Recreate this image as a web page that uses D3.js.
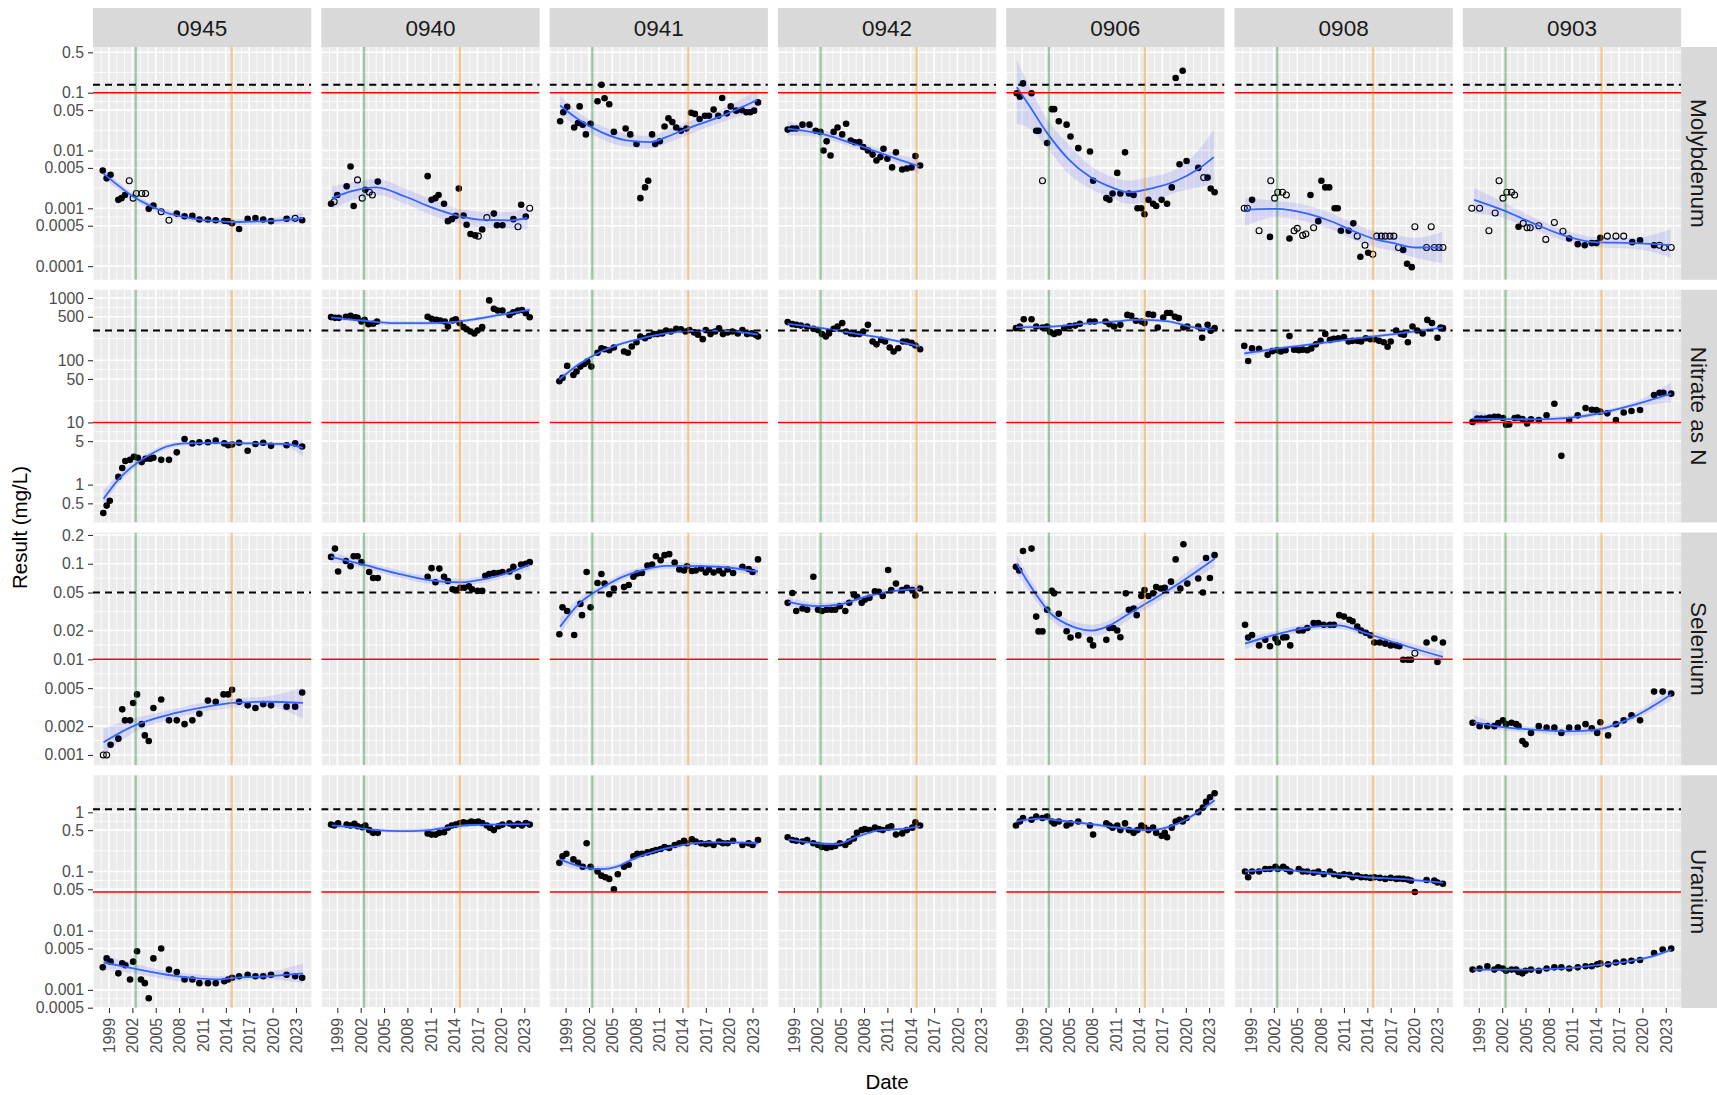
<!DOCTYPE html>
<html><head><meta charset="utf-8">
<script src="https://cdn.jsdelivr.net/npm/d3@7"></script>
<style>body{margin:0;background:#fff}svg{display:block}text{font-family:"Liberation Sans",Arial,sans-serif}</style>
</head><body><svg id="chart" width="1717" height="1095"></svg>
<script>
// ---------- categories & ticks ----------
const stations = ["0945","0940","0941","0942","0906","0908","0903"];
const analytes = ["Molybdenum","Nitrate as N","Selenium","Uranium"];
const xTicks = [1999,2002,2005,2008,2011,2014,2017,2020,2023];
const xDomain = [1996.946, 2024.97];
const moTicks = [0.0001,0.0005,0.001,0.005,0.01,0.05,0.1,0.5];
const moLabels = ["0.0001","0.0005","0.001","0.005","0.01","0.05","0.1","0.5"];
const noTicks = [0.5,1,5,10,50,100,500,1000];
const noLabels = ["0.5","1","5","10","50","100","500","1000"];
const seTicks = [0.001,0.002,0.005,0.01,0.02,0.05,0.1,0.2];
const seLabels = ["0.001","0.002","0.005","0.01","0.02","0.05","0.1","0.2"];
const uTicks = [0.0005,0.001,0.005,0.01,0.05,0.1,0.5,1];
const uLabels = ["0.0005","0.001","0.005","0.01","0.05","0.1","0.5","1"];
const yLimits = [[5.81e-5,0.618],[0.246,1358],[7.80e-4,0.2123],[4.94e-4,4.227]];
const redLimits = [0.1, 10, 0.01, 0.045];
const dashLimits = [0.137, 300, 0.05, 1.13];
const greenYear = 2002.43, orangeYear = 2014.75;

// ---------- points: [year, value, open?] ----------
const mo0945 = [[1998.2,0.0045],[1998.7,0.0033],[1999.2,0.0038],[2000.2,0.0014],[2000.6,0.0015],[2001.05,0.0017],[2001.6,0.003,1],[2002.1,0.0015,1],[2002.5,0.0018,1],[2003.2,0.0018,1],[2003.7,0.0018,1],[2004.1,0.00098],[2004.7,0.00112],[2005.7,0.00087,1],[2006.7,0.00062,1],[2007.7,0.00081],[2008.7,0.00073],[2009.7,0.00074],[2010.6,0.00064],[2011.7,0.00064],[2012.7,0.00062],[2013.8,0.00061],[2014.3,0.0006],[2014.8,0.00055],[2015.7,0.00044],[2016.8,0.00066],[2017.8,0.00068],[2018.8,0.00064],[2019.8,0.0006],[2021.8,0.00066],[2022.9,0.00067,1],[2023.8,0.00062]];
const mo0940 = [[1998.2,0.0012],[1998.6,0.0013,1],[1999.0,0.0017],[2000.2,0.0024],[2000.7,0.0053],[2001.1,0.0011],[2001.6,0.0031,1],[2002.2,0.0015,1],[2002.6,0.0021],[2003.1,0.0019,1],[2003.5,0.0017,1],[2004.2,0.0029],[2010.6,0.0036],[2011.1,0.0014],[2011.6,0.0015],[2012.0,0.0017],[2012.7,0.0012],[2013.2,0.0006],[2013.7,0.00065],[2014.2,0.00074],[2014.6,0.0022],[2015.2,0.00075],[2015.6,0.00052],[2016.1,0.00036],[2016.7,0.00034],[2017.1,0.00033,1],[2017.6,0.00043],[2018.2,0.00069,1],[2019.1,0.00081],[2019.5,0.00051],[2020.2,0.00051],[2021.6,0.00065],[2022.2,0.00048,1],[2022.6,0.00115],[2023.2,0.00072],[2023.7,0.001,1]];
const mo0941 = [[1998.3,0.032],[1998.7,0.046],[1999.2,0.057],[2000.1,0.025],[2000.6,0.03],[2000.8,0.058],[2001.2,0.028],[2001.6,0.019],[2002.2,0.029],[2003.1,0.071],[2003.6,0.137],[2004.0,0.08],[2004.6,0.063],[2005.2,0.021],[2006.7,0.024],[2007.3,0.019],[2008.1,0.013],[2008.6,0.0015],[2009.2,0.0023],[2009.6,0.003],[2010.1,0.019],[2010.5,0.013],[2011.1,0.0145],[2011.7,0.026],[2012.2,0.036],[2012.7,0.031],[2013.2,0.025],[2013.8,0.022],[2014.5,0.024],[2015.1,0.045],[2015.6,0.043],[2016.2,0.035],[2016.9,0.04],[2017.4,0.04],[2018.0,0.051],[2018.6,0.04],[2019.1,0.081],[2019.7,0.044],[2020.2,0.058],[2020.9,0.049],[2021.6,0.05],[2022.2,0.046],[2022.7,0.046],[2023.2,0.049],[2023.7,0.068]];
const mo0942 = [[1998.2,0.023],[1998.8,0.024],[1999.3,0.024],[2000.1,0.028],[2001.0,0.028],[2001.8,0.022],[2002.4,0.021],[2002.8,0.01],[2003.2,0.0144],[2003.7,0.0082],[2004.1,0.021],[2004.6,0.025],[2005.2,0.019],[2005.7,0.029],[2006.3,0.0149],[2006.8,0.0139],[2007.4,0.014],[2007.9,0.0115],[2008.5,0.01],[2009.1,0.0085],[2009.6,0.0067],[2010.1,0.0077],[2010.5,0.0107],[2011.0,0.0072],[2011.6,0.0051],[2012.1,0.0093],[2012.9,0.0047],[2013.5,0.0049],[2014.1,0.0051],[2014.6,0.008],[2015.2,0.0055]];
const mo0906 = [[1998.3,0.098],[1998.7,0.085],[1999.1,0.145],[2000.2,0.098],[2000.8,0.022],[2001.1,0.022],[2001.6,0.003,1],[2002.2,0.0135],[2002.8,0.052],[2003.1,0.052],[2003.7,0.032],[2004.7,0.028],[2005.2,0.0175],[2006.2,0.011],[2007.7,0.0096],[2008.1,0.003],[2009.8,0.0015],[2010.2,0.0014],[2010.6,0.0018],[2011.2,0.0041],[2011.6,0.0018],[2012.2,0.0093],[2012.7,0.0018],[2013.3,0.0017],[2013.8,0.001],[2014.3,0.001],[2014.7,0.00079],[2015.2,0.0014],[2015.8,0.0012],[2016.2,0.0011],[2016.9,0.0014],[2017.6,0.0012],[2018.2,0.0023],[2018.7,0.18],[2019.2,0.0058],[2019.6,0.24],[2020.1,0.0066],[2021.6,0.005],[2022.3,0.0034,1],[2022.8,0.0034],[2023.2,0.0022],[2023.7,0.0019]];
const mo0908 = [[1998.2,0.001,1],[1998.6,0.001,1],[1999.2,0.0014],[2000.1,0.00041,1],[2001.5,0.00032],[2001.6,0.003,1],[2002.1,0.0015,1],[2002.5,0.0019,1],[2003.1,0.0019,1],[2003.6,0.0017,1],[2004.0,0.0003],[2004.6,0.00041,1],[2005.0,0.00045,1],[2005.7,0.00034,1],[2006.1,0.00036,1],[2006.7,0.0017],[2007.1,0.00046,1],[2007.7,0.0006],[2008.1,0.003],[2008.6,0.0023],[2009.1,0.0023],[2009.8,0.001],[2010.2,0.001],[2010.6,0.00041],[2011.6,0.00041],[2012.2,0.00055],[2012.7,0.00033,1],[2013.1,0.000145],[2013.7,0.00023,1],[2014.1,0.00017],[2014.7,0.00016,1],[2015.2,0.00033,1],[2015.8,0.00033,1],[2016.3,0.00033,1],[2016.9,0.00033,1],[2017.4,0.00033,1],[2018.0,0.00021,1],[2018.6,0.00019],[2019.1,0.00011],[2019.7,0.000096],[2020.1,0.00048,1],[2021.6,0.00021,1],[2022.2,0.00048,1],[2022.6,0.00021,1],[2023.2,0.00021,1],[2023.7,0.00021,1]];
const mo0903 = [[1998.1,0.001,1],[1999.1,0.001,1],[2000.3,0.00041,1],[2001.1,0.00083,1],[2001.6,0.003,1],[2002.1,0.0015,1],[2002.6,0.0019,1],[2003.2,0.0019,1],[2003.6,0.0017,1],[2004.1,0.00048],[2004.7,0.00055,1],[2005.2,0.00046,1],[2005.6,0.00046,1],[2006.7,0.0005,1],[2007.6,0.00029,1],[2008.7,0.00057,1],[2009.8,0.0004,1],[2010.6,0.0003],[2011.7,0.00024],[2012.6,0.00023],[2013.5,0.00025],[2014.1,0.00025],[2014.6,0.00031],[2015.5,0.00033,1],[2016.6,0.00033,1],[2017.6,0.00033,1],[2018.7,0.00026],[2019.7,0.00028],[2021.5,0.00023],[2022.2,0.00023,1],[2022.8,0.00021,1],[2023.7,0.00021,1]];

const no0945 = [[1998.27,0.35],[1998.7,0.46],[1999.1,0.55],[2000.2,1.33],[2000.7,1.85],[2001.1,2.4],[2001.7,2.5],[2002.2,2.8],[2002.7,2.7],[2003.2,2.3],[2003.7,2.6],[2004.3,2.6],[2004.7,2.7],[2005.7,2.5],[2006.7,2.5],[2007.7,3.3],[2008.7,5.4],[2009.7,4.6],[2010.6,4.8],[2011.7,4.8],[2012.7,5.1],[2013.8,4.6],[2014.3,4.3],[2014.8,4.4],[2015.7,4.7],[2016.8,3.5],[2017.8,4.5],[2018.8,4.7],[2019.8,4.2],[2021.8,4.3],[2022.9,4.6],[2023.8,4.1]];
const no0940 = [[1998.2,493],[1998.7,480],[1999.2,480],[2000.1,500],[2000.7,520],[2001.3,490],[2001.6,480],[2002.1,420],[2002.5,445],[2003.0,380],[2003.6,385],[2004.1,420],[2010.6,500],[2011.1,465],[2011.7,445],[2012.2,435],[2012.8,420],[2013.2,347],[2013.8,435],[2014.2,455],[2014.7,395],[2015.2,340],[2015.6,315],[2016.1,290],[2016.6,270],[2017.0,300],[2017.6,340],[2018.5,915],[2019.1,670],[2019.6,630],[2020.2,630],[2021.1,535],[2021.6,590],[2022.2,630],[2022.7,640],[2023.2,570],[2023.7,490]];
const no0941 = [[1998.2,46],[1998.6,52],[1999.2,81],[2000.0,58],[2000.4,66],[2000.9,79],[2001.4,87],[2001.8,95],[2002.3,79],[2003.1,132],[2003.6,156],[2004.0,150],[2004.6,145],[2005.2,160],[2006.5,138],[2007.0,132],[2007.5,166],[2008.1,195],[2008.6,240],[2009.2,225],[2009.7,245],[2010.3,263],[2010.8,263],[2011.4,270],[2011.9,300],[2012.5,290],[2013.2,320],[2013.8,315],[2014.4,290],[2014.9,305],[2015.5,280],[2016.0,257],[2016.6,218],[2017.0,305],[2017.6,263],[2018.2,290],[2018.7,325],[2019.2,263],[2019.8,280],[2020.4,290],[2021.1,270],[2021.7,305],[2022.3,263],[2022.9,270],[2023.4,257],[2023.7,240]];
const no0942 = [[1998.2,410],[1998.8,380],[1999.3,370],[1999.9,360],[2000.7,348],[2001.5,320],[2002.1,305],[2002.6,263],[2003.1,240],[2003.5,270],[2004.1,320],[2004.6,348],[2005.2,395],[2005.7,290],[2006.3,270],[2006.8,263],[2007.4,263],[2007.9,290],[2008.5,370],[2009.1,200],[2009.6,180],[2010.2,212],[2010.7,200],[2011.3,160],[2011.8,138],[2012.4,156],[2013.0,200],[2013.5,200],[2014.1,190],[2014.6,172],[2015.2,150]];
const no0906 = [[1998.2,328],[1998.7,348],[1999.2,455],[2000.2,455],[2000.8,348],[2001.6,335],[2002.2,348],[2002.6,283],[2003.1,265],[2003.7,280],[2004.4,328],[2005.1,355],[2005.8,360],[2006.4,385],[2007.7,420],[2008.3,420],[2009.7,420],[2010.2,380],[2010.8,348],[2011.6,370],[2012.5,535],[2013.0,520],[2013.6,430],[2014.3,420],[2014.7,395],[2015.2,550],[2015.8,535],[2016.4,335],[2017.1,485],[2017.6,575],[2018.0,575],[2018.6,500],[2019.1,475],[2019.7,335],[2020.2,348],[2021.6,348],[2022.1,230],[2022.8,370],[2023.2,297],[2023.7,328]];
const no0908 = [[1998.2,170],[1998.7,97],[1999.2,155],[2000.1,152],[2001.2,122],[2001.8,140],[2002.4,145],[2002.9,138],[2003.5,145],[2004.0,245],[2004.6,148],[2005.2,145],[2005.7,148],[2006.3,145],[2006.8,155],[2007.4,180],[2008.0,205],[2008.6,265],[2009.2,212],[2009.7,220],[2010.3,225],[2011.0,235],[2011.6,200],[2012.1,205],[2012.7,205],[2013.2,200],[2013.8,225],[2014.4,218],[2014.9,218],[2015.5,205],[2016.1,195],[2016.6,165],[2017.0,200],[2017.7,300],[2018.3,265],[2018.7,257],[2019.2,195],[2019.8,348],[2020.4,300],[2021.1,270],[2021.7,445],[2022.3,395],[2023.0,230],[2023.4,335],[2023.7,328]];
const no0903 = [[1998.2,10.2],[1998.8,11.5],[1999.3,11.5],[1999.9,11.5],[2000.4,12],[2001.0,12.3],[2001.5,12.3],[2002.1,11.8],[2002.5,9.2],[2002.9,9.3],[2003.6,11.8],[2004.0,12],[2004.6,11.3],[2005.2,9.6],[2005.7,11.2],[2006.7,10.9],[2007.7,13],[2008.7,20],[2009.6,2.9],[2010.6,10.9],[2011.7,13],[2012.7,17],[2013.5,16],[2014.1,15.8],[2014.6,14.9],[2015.5,14],[2016.6,10.9],[2017.6,14.4],[2018.6,15.3],[2019.7,15.8],[2021.5,27.5],[2022.2,30],[2022.7,30],[2023.7,29]];

const se0945 = [[1998.27,0.001,1],[1998.7,0.001,1],[1999.2,0.00128],[2000.2,0.00148],[2000.7,0.003],[2001.05,0.0023],[2001.7,0.0023],[2002.1,0.0035],[2002.6,0.0043],[2003.2,0.0021],[2003.6,0.0016],[2004.1,0.0014],[2004.7,0.0031],[2005.7,0.0038],[2006.7,0.0023],[2007.7,0.0023],[2008.7,0.0021],[2009.7,0.0023],[2010.6,0.0027],[2011.7,0.0037],[2012.7,0.0036],[2013.7,0.0043],[2014.3,0.0043],[2014.8,0.0048],[2015.7,0.0036],[2016.8,0.0033],[2017.8,0.0031],[2018.8,0.0034],[2019.8,0.0033],[2021.8,0.0032],[2022.9,0.0032],[2023.8,0.0045]];
const se0940 = [[1998.2,0.118],[1998.7,0.144],[1999.1,0.083],[2000.1,0.107],[2000.7,0.094],[2001.1,0.12],[2001.6,0.12],[2002.1,0.104],[2003.1,0.082],[2003.6,0.071],[2004.2,0.071],[2010.6,0.073],[2011.1,0.09],[2011.6,0.064],[2012.1,0.089],[2012.7,0.073],[2013.2,0.066],[2013.8,0.054],[2014.2,0.053],[2014.8,0.056],[2015.3,0.056],[2015.9,0.058],[2016.3,0.054],[2017.0,0.052],[2017.6,0.052],[2018.0,0.075],[2018.5,0.078],[2019.1,0.08],[2019.7,0.08],[2020.2,0.082],[2021.1,0.083],[2021.6,0.093],[2022.2,0.073],[2022.6,0.098],[2023.2,0.1],[2023.7,0.104]];
const se0941 = [[1998.2,0.0183],[1998.6,0.035],[1999.2,0.032],[2000.1,0.018],[2000.9,0.038],[2001.1,0.029],[2001.7,0.082],[2002.2,0.035],[2003.1,0.063],[2003.6,0.078],[2004.0,0.062],[2004.6,0.048],[2005.2,0.055],[2006.5,0.057],[2007.1,0.06],[2007.7,0.073],[2008.2,0.079],[2008.8,0.08],[2009.5,0.096],[2010.1,0.098],[2010.6,0.12],[2011.2,0.109],[2011.7,0.123],[2012.3,0.126],[2013.0,0.103],[2013.6,0.087],[2014.2,0.085],[2014.6,0.094],[2015.2,0.084],[2015.7,0.085],[2016.4,0.089],[2017.0,0.081],[2017.4,0.087],[2018.0,0.081],[2018.7,0.085],[2019.2,0.079],[2019.8,0.087],[2020.5,0.08],[2021.7,0.093],[2022.5,0.088],[2023.0,0.082],[2023.7,0.111]];
const se0942 = [[1998.2,0.039],[1998.8,0.0495],[1999.3,0.032],[2000.1,0.034],[2000.7,0.033],[2001.5,0.073],[2002.1,0.033],[2002.6,0.032],[2003.2,0.033],[2003.8,0.033],[2004.3,0.033],[2004.9,0.036],[2005.6,0.032],[2006.1,0.039],[2006.7,0.0475],[2007.1,0.045],[2007.7,0.039],[2008.1,0.042],[2008.7,0.044],[2009.4,0.0515],[2009.9,0.051],[2010.4,0.046],[2011.1,0.086],[2011.5,0.053],[2012.1,0.062],[2012.9,0.053],[2013.5,0.056],[2014.2,0.053],[2014.6,0.0465],[2015.2,0.055]];
const se0906 = [[1998.2,0.093],[1998.6,0.085],[1999.1,0.136],[2000.2,0.144],[2000.8,0.028],[2001.1,0.0196],[2001.6,0.0196],[2002.2,0.033],[2002.8,0.052],[2003.1,0.049],[2003.7,0.03],[2004.7,0.0197],[2005.2,0.0169],[2006.2,0.0178],[2007.7,0.016],[2008.1,0.014],[2009.8,0.016],[2010.2,0.0213],[2010.7,0.0213],[2011.2,0.02],[2011.6,0.017],[2012.3,0.049],[2012.7,0.033],[2013.3,0.034],[2013.7,0.029],[2014.3,0.046],[2014.7,0.053],[2015.2,0.046],[2015.8,0.049],[2016.2,0.057],[2016.8,0.055],[2017.3,0.056],[2018.1,0.065],[2018.7,0.111],[2019.3,0.055],[2019.7,0.16],[2020.2,0.062],[2021.6,0.07],[2022.2,0.05],[2022.6,0.115],[2023.1,0.071],[2023.7,0.123]];
const se0908 = [[1998.3,0.023],[1998.7,0.0169],[1999.2,0.018],[2000.1,0.014],[2000.9,0.016],[2001.5,0.0137],[2002.2,0.0165],[2002.5,0.015],[2003.2,0.0169],[2003.6,0.017],[2004.1,0.014],[2005.2,0.02],[2005.7,0.02],[2006.3,0.0213],[2007.1,0.024],[2007.7,0.024],[2008.4,0.023],[2009.2,0.023],[2009.7,0.023],[2010.4,0.029],[2011.0,0.028],[2011.7,0.026],[2012.1,0.025],[2012.7,0.022],[2013.2,0.02],[2013.8,0.019],[2014.4,0.0178],[2014.9,0.015],[2015.6,0.015],[2016.3,0.0146],[2017.0,0.014],[2017.7,0.014],[2018.1,0.0137],[2018.6,0.0099],[2019.2,0.0099],[2019.6,0.0099],[2020.1,0.0116,1],[2021.6,0.015],[2022.6,0.0165],[2023.0,0.0094],[2023.7,0.015]];
const se0903 = [[1998.2,0.00217],[1999.1,0.002],[2000.1,0.002],[2001.0,0.002],[2001.5,0.00215],[2002.1,0.0023],[2002.5,0.0021],[2003.2,0.00217],[2003.8,0.0021],[2004.1,0.002],[2004.6,0.0014],[2005.0,0.00129],[2005.7,0.0017],[2006.7,0.002],[2007.7,0.00193],[2008.7,0.00193],[2009.6,0.0017],[2010.6,0.00193],[2011.7,0.00193],[2012.7,0.0021],[2013.5,0.0019],[2014.2,0.0017],[2014.6,0.0022],[2015.6,0.0016],[2016.6,0.0021],[2017.6,0.0023],[2018.6,0.0026],[2019.7,0.0023],[2021.5,0.0046],[2022.6,0.0046],[2023.7,0.0044]];

const u0945 = [[1998.2,0.0024],[1998.7,0.0034],[1999.2,0.003],[2000.2,0.0019],[2000.7,0.0028],[2001.1,0.0026],[2001.7,0.0015],[2002.1,0.003],[2002.6,0.0045],[2003.1,0.0015],[2003.6,0.0013],[2004.1,0.00072],[2004.7,0.0034],[2005.7,0.005],[2006.7,0.0022],[2007.7,0.002],[2008.7,0.0015],[2009.7,0.0015],[2010.6,0.0013],[2011.7,0.0013],[2012.7,0.0013],[2013.8,0.0014],[2014.3,0.0015],[2014.8,0.0016],[2015.7,0.0017],[2016.8,0.0018],[2017.8,0.0017],[2018.8,0.0017],[2019.8,0.0018],[2021.8,0.0018],[2022.9,0.0017],[2023.8,0.0016]];
const u0940 = [[1998.2,0.62],[1998.6,0.6],[1999.1,0.65],[2000.2,0.62],[2000.7,0.6],[2001.2,0.64],[2001.6,0.58],[2002.2,0.56],[2002.6,0.6],[2003.1,0.5],[2003.6,0.45],[2004.2,0.45],[2010.6,0.44],[2011.1,0.42],[2011.6,0.42],[2012.1,0.45],[2012.7,0.46],[2013.2,0.55],[2013.7,0.6],[2014.2,0.62],[2014.7,0.65],[2015.2,0.68],[2015.7,0.66],[2016.2,0.7],[2016.7,0.68],[2017.1,0.7],[2017.6,0.66],[2018.2,0.6],[2018.6,0.55],[2019.1,0.5],[2019.7,0.58],[2020.2,0.62],[2021.1,0.65],[2021.6,0.6],[2022.2,0.64],[2022.7,0.6],[2023.2,0.66],[2023.7,0.62]];
const u0941 = [[1998.2,0.14],[1998.6,0.18],[1999.1,0.2],[2000.0,0.16],[2000.6,0.14],[2001.2,0.12],[2001.7,0.3],[2002.2,0.12],[2003.1,0.1],[2003.6,0.085],[2004.1,0.08],[2004.6,0.075],[2005.2,0.05],[2005.7,0.09],[2006.5,0.12],[2007.1,0.13],[2007.7,0.18],[2008.2,0.2],[2008.8,0.2],[2009.5,0.21],[2010.1,0.22],[2010.6,0.23],[2011.2,0.24],[2011.7,0.26],[2012.3,0.25],[2013.0,0.28],[2013.6,0.3],[2014.2,0.33],[2014.6,0.3],[2015.2,0.35],[2015.7,0.32],[2016.4,0.3],[2017.0,0.29],[2017.4,0.3],[2018.0,0.28],[2018.7,0.32],[2019.2,0.3],[2019.8,0.3],[2020.5,0.33],[2021.7,0.28],[2022.5,0.3],[2023.0,0.28],[2023.7,0.34]];
const u0942 = [[1998.2,0.38],[1998.8,0.34],[1999.3,0.33],[2000.1,0.32],[2000.7,0.34],[2001.5,0.3],[2002.1,0.28],[2002.6,0.26],[2003.2,0.25],[2003.8,0.26],[2004.3,0.27],[2004.9,0.3],[2005.6,0.28],[2006.1,0.32],[2006.7,0.36],[2007.1,0.45],[2007.7,0.5],[2008.1,0.52],[2008.7,0.5],[2009.4,0.55],[2009.9,0.52],[2010.4,0.5],[2011.1,0.55],[2011.5,0.58],[2012.1,0.42],[2012.9,0.44],[2013.5,0.5],[2014.2,0.55],[2014.6,0.68],[2015.2,0.6]];
const u0906 = [[1998.2,0.6],[1998.7,0.7],[1999.1,0.8],[2000.2,0.75],[2000.8,0.85],[2001.6,0.8],[2002.2,0.85],[2002.8,0.7],[2003.1,0.65],[2003.7,0.7],[2004.7,0.6],[2005.2,0.65],[2006.2,0.7],[2007.7,0.6],[2008.1,0.42],[2009.8,0.65],[2010.2,0.6],[2010.6,0.55],[2011.2,0.6],[2011.6,0.5],[2012.2,0.65],[2012.7,0.5],[2013.3,0.45],[2013.8,0.5],[2014.3,0.6],[2014.7,0.55],[2015.2,0.5],[2015.8,0.55],[2016.2,0.45],[2016.9,0.4],[2017.3,0.45],[2017.6,0.38],[2018.2,0.55],[2018.7,0.7],[2019.2,0.75],[2019.6,0.7],[2020.1,0.8],[2021.6,1.0],[2022.2,1.2],[2022.6,1.5],[2023.1,1.8],[2023.7,2.1]];
const u0908 = [[1998.3,0.1],[1998.7,0.08],[1999.2,0.1],[2000.1,0.1],[2000.9,0.11],[2001.5,0.11],[2002.2,0.12],[2002.5,0.11],[2003.2,0.12],[2003.6,0.11],[2004.1,0.1],[2005.2,0.11],[2005.7,0.1],[2006.3,0.1],[2007.1,0.095],[2007.7,0.1],[2008.4,0.09],[2009.2,0.1],[2009.7,0.09],[2010.4,0.085],[2011.0,0.09],[2011.7,0.088],[2012.1,0.08],[2012.7,0.085],[2013.2,0.08],[2013.8,0.08],[2014.4,0.078],[2014.9,0.08],[2015.6,0.078],[2016.3,0.075],[2017.0,0.078],[2017.7,0.075],[2018.1,0.076],[2018.6,0.075],[2019.2,0.073],[2019.6,0.07],[2020.1,0.045],[2021.6,0.072],[2022.6,0.07],[2023.0,0.065],[2023.7,0.062]];
const u0903 = [[1998.2,0.0022],[1999.1,0.0023],[2000.1,0.0025],[2001.0,0.0022],[2001.5,0.0024],[2002.1,0.0023],[2002.5,0.0021],[2003.2,0.0022],[2003.8,0.0022],[2004.1,0.002],[2004.6,0.0019],[2005.0,0.0021],[2005.7,0.0022],[2006.7,0.0021],[2007.7,0.0023],[2008.7,0.0024],[2009.6,0.0024],[2010.6,0.0023],[2011.7,0.0024],[2012.7,0.0025],[2013.5,0.0025],[2014.2,0.0027],[2014.6,0.0028],[2015.6,0.0027],[2016.6,0.0029],[2017.6,0.003],[2018.6,0.0031],[2019.7,0.0032],[2021.5,0.0042],[2022.6,0.0048],[2023.7,0.005]];

// ---------- smooth fits: [year, fit, lower, upper] ----------
const moFit0945 = [[1998.3,0.004,0.0032,0.005],[2000,0.0026,0.0022,0.003],[2002.1,0.0016,0.0014,0.0018],[2004.3,0.0011,0.00097,0.00125],[2006.5,0.00083,0.00073,0.00094],[2008.6,0.00071,0.00063,0.0008],[2010.7,0.00064,0.00057,0.00072],[2013,0.0006,0.00053,0.00067],[2015,0.00058,0.00051,0.00065],[2017.2,0.00059,0.00052,0.00066],[2019.3,0.0006,0.00053,0.00068],[2021.5,0.00063,0.00054,0.00073],[2023.9,0.00068,0.00055,0.00085]];
const moFit0940 = [[1998.3,0.0015,0.00095,0.0024],[2001,0.002,0.0014,0.0028],[2004,0.0023,0.0017,0.0032],[2007.7,0.0016,0.0012,0.0022],[2011,0.00105,0.00077,0.00145],[2014.4,0.00075,0.00055,0.001],[2017.8,0.00063,0.00046,0.00087],[2021.1,0.00062,0.00045,0.00086],[2023.4,0.00068,0.00043,0.00108]];
const moFit0941 = [[1998.3,0.06,0.04,0.089],[2000.7,0.034,0.026,0.045],[2003.5,0.021,0.016,0.027],[2006.8,0.015,0.0116,0.0194],[2009.9,0.014,0.0108,0.018],[2011.9,0.017,0.0132,0.022],[2014.6,0.024,0.0186,0.031],[2018.5,0.037,0.029,0.048],[2023.6,0.075,0.05,0.11]];
const moFit0942 = [[1998.2,0.024,0.018,0.032],[2000.2,0.022,0.018,0.027],[2002.2,0.02,0.017,0.0235],[2006.1,0.0139,0.0118,0.0163],[2010.5,0.0087,0.0074,0.0102],[2013,0.0066,0.0054,0.0081],[2015.1,0.0053,0.0039,0.0072]];
const moFit0906 = [[1998.3,0.124,0.029,0.38],[1999.9,0.06,0.024,0.13],[2002.1,0.021,0.0115,0.037],[2004.9,0.0072,0.004,0.013],[2007.7,0.0035,0.0022,0.0055],[2010.5,0.0023,0.0015,0.0035],[2012.7,0.0019,0.0012,0.003],[2015.5,0.0022,0.0013,0.0035],[2018.8,0.003,0.0019,0.0048],[2021.6,0.0048,0.0023,0.01],[2023.6,0.0077,0.0027,0.023]];
const moFit0908 = [[1998.3,0.00095,0.00049,0.0015],[2002.4,0.00098,0.0007,0.00135],[2006.3,0.00081,0.00058,0.00112],[2009.6,0.00058,0.00042,0.0008],[2011.9,0.00042,0.0003,0.00058],[2014.7,0.0003,0.00022,0.00041],[2017.4,0.00025,0.00018,0.00035],[2020.2,0.00021,0.00014,0.00031],[2023.6,0.00021,0.000113,0.00039]];
const moFit0903 = [[1998.4,0.0014,0.00082,0.0023],[2002.1,0.00093,0.00068,0.00128],[2006,0.00055,0.00043,0.0007],[2010.5,0.00032,0.00026,0.0004],[2013.8,0.00026,0.00021,0.00032],[2018.8,0.00025,0.0002,0.00031],[2023.6,0.00023,0.00014,0.00044]];

const noFit0945 = [[1998.3,0.59,0.48,0.83],[2000,1.13,0.95,1.35],[2002.1,2.0,1.75,2.3],[2004.3,3.05,2.75,3.4],[2006.4,4.1,3.7,4.5],[2008.6,4.6,4.2,5.0],[2012.9,4.7,4.35,5.1],[2017.2,4.6,4.25,5.0],[2021.5,4.5,4.1,4.9],[2023.9,3.9,2.8,5.3]];
const noFit0940 = [[1998.2,490,450,535],[2002.1,435,405,465],[2006.5,395,365,425],[2010.5,395,365,425],[2013.2,405,378,435],[2016,445,415,475],[2019.9,535,500,575],[2023.7,645,580,720]];
const noFit0941 = [[1998.2,49,44,55],[2000.7,86,80,92],[2003.5,137,128,146],[2006.3,187,176,198],[2009.1,230,218,243],[2011.8,270,256,284],[2014.6,295,280,310],[2017.4,300,285,316],[2020.2,295,280,311],[2023.7,257,238,278]];
const noFit0942 = [[1998.2,385,360,412],[2002.6,327,310,345],[2006.5,272,258,287],[2010.5,226,214,239],[2015.2,166,152,182]];
const noFit0906 = [[1998.2,340,310,372],[2002.7,348,328,368],[2007.7,395,374,416],[2011,420,398,443],[2013.3,445,420,470],[2014.9,445,420,470],[2017.8,420,396,445],[2020.5,348,328,370],[2023.7,307,278,340]];
const noFit0908 = [[1998.2,129,115,145],[2001.8,150,140,161],[2006.3,176,166,187],[2011.9,218,206,231],[2017.4,263,248,279],[2023.7,335,305,368]];
const noFit0903 = [[1998.2,11.5,8.5,16],[2002.1,11.3,10.2,12.5],[2006.6,11.2,10.2,12.3],[2010.5,11.8,10.8,12.9],[2014.9,14.3,13.1,15.6],[2018.8,19,17.3,20.9],[2023.7,29,21,44]];

const seFit0945 = [[1998.3,0.00136,0.00102,0.00188],[2002.1,0.002,0.0017,0.0024],[2006.4,0.0026,0.0023,0.0029],[2010.7,0.0031,0.0028,0.0035],[2015,0.0035,0.0031,0.0039],[2019.3,0.0036,0.0032,0.0041],[2023.9,0.0035,0.0024,0.0051]];
const seFit0940 = [[1998.2,0.118,0.104,0.134],[2002.1,0.099,0.091,0.108],[2006.5,0.08,0.073,0.087],[2011,0.067,0.061,0.073],[2014.8,0.064,0.059,0.07],[2018.2,0.07,0.064,0.076],[2020.9,0.08,0.073,0.087],[2023.7,0.098,0.087,0.11]];
const seFit0941 = [[1998.3,0.022,0.018,0.027],[2000.7,0.038,0.034,0.043],[2003.5,0.055,0.05,0.06],[2006.3,0.073,0.067,0.079],[2009.1,0.087,0.08,0.094],[2011.9,0.095,0.088,0.103],[2014.6,0.095,0.088,0.103],[2018.5,0.093,0.086,0.1],[2023.7,0.083,0.074,0.093]];
const seFit0942 = [[1998.3,0.04,0.036,0.045],[2002.1,0.036,0.033,0.039],[2004.9,0.0375,0.035,0.04],[2007.7,0.044,0.041,0.047],[2010.5,0.05,0.047,0.054],[2012.7,0.053,0.049,0.057],[2015.2,0.055,0.049,0.062]];
const seFit0906 = [[1998.3,0.1,0.079,0.126],[2000.4,0.053,0.045,0.062],[2002.7,0.03,0.026,0.034],[2005.5,0.022,0.019,0.025],[2008,0.02,0.0175,0.023],[2009.9,0.022,0.019,0.025],[2012.7,0.03,0.026,0.034],[2015.5,0.041,0.036,0.046],[2018.8,0.06,0.053,0.068],[2023.7,0.113,0.092,0.139]];
const seFit0908 = [[1998.3,0.0146,0.0127,0.0168],[2001.8,0.0178,0.0163,0.0194],[2006.3,0.0215,0.0197,0.0235],[2010.2,0.0227,0.0208,0.0248],[2013.5,0.0192,0.0176,0.021],[2017.4,0.0151,0.0138,0.0165],[2023.7,0.0106,0.0092,0.0122]];
const seFit0903 = [[1998.4,0.0022,0.0019,0.0026],[2002.1,0.00195,0.0018,0.0021],[2006,0.00184,0.0017,0.002],[2010.5,0.00176,0.0016,0.0019],[2014.4,0.00185,0.0017,0.002],[2018.8,0.00249,0.0023,0.0027],[2023.7,0.0043,0.0037,0.005]];

const uFit0945 = [[1998.3,0.0029,0.0022,0.0038],[2002.1,0.0023,0.0019,0.0028],[2006.4,0.0018,0.0015,0.0021],[2010.7,0.00155,0.0013,0.0018],[2012.9,0.0015,0.0013,0.0017],[2015,0.0016,0.0014,0.0018],[2019.3,0.0017,0.0015,0.002],[2023.9,0.0019,0.0013,0.0028]];
const uFit0940 = [[1998.3,0.6,0.54,0.66],[2001,0.56,0.52,0.6],[2004,0.5,0.47,0.54],[2007,0.48,0.45,0.52],[2010,0.49,0.46,0.53],[2013,0.55,0.51,0.59],[2016,0.61,0.57,0.65],[2019,0.62,0.58,0.66],[2023.7,0.63,0.57,0.7]];
const uFit0941 = [[1998.3,0.16,0.13,0.19],[2001,0.12,0.105,0.137],[2003.5,0.11,0.098,0.124],[2005.5,0.12,0.108,0.133],[2008,0.17,0.155,0.186],[2011,0.23,0.215,0.246],[2014,0.28,0.263,0.298],[2017,0.31,0.292,0.33],[2020,0.31,0.29,0.33],[2023.7,0.3,0.27,0.33]];
const uFit0942 = [[1998.3,0.35,0.32,0.39],[2002,0.3,0.28,0.32],[2004.5,0.29,0.27,0.31],[2007,0.38,0.355,0.405],[2010,0.5,0.47,0.53],[2012.5,0.52,0.49,0.55],[2015.2,0.58,0.52,0.65]];
const uFit0906 = [[1998.3,0.7,0.62,0.79],[2001,0.78,0.72,0.84],[2004,0.72,0.67,0.77],[2007,0.65,0.6,0.7],[2010,0.58,0.54,0.62],[2013,0.52,0.48,0.56],[2015.5,0.5,0.46,0.54],[2017.5,0.55,0.51,0.6],[2020,0.75,0.69,0.82],[2022,1.1,1.0,1.21],[2023.7,1.6,1.35,1.9]];
const uFit0908 = [[1998.3,0.1,0.092,0.109],[2002,0.108,0.102,0.114],[2006,0.1,0.095,0.105],[2010,0.09,0.086,0.094],[2014,0.08,0.076,0.084],[2018,0.075,0.071,0.079],[2023.7,0.065,0.059,0.072]];
const uFit0903 = [[1998.3,0.0022,0.002,0.0024],[2002,0.0022,0.0021,0.0023],[2006,0.0022,0.0021,0.0023],[2010,0.0023,0.0022,0.0024],[2014,0.0026,0.0025,0.0027],[2018,0.003,0.0029,0.0032],[2021,0.0036,0.0034,0.0038],[2023.7,0.0048,0.0044,0.0053]];

// ---------- tables built from the arrays ----------
const pointTable = [
  [mo0945,mo0940,mo0941,mo0942,mo0906,mo0908,mo0903],
  [no0945,no0940,no0941,no0942,no0906,no0908,no0903],
  [se0945,se0940,se0941,se0942,se0906,se0908,se0903],
  [u0945,u0940,u0941,u0942,u0906,u0908,u0903]];
const fitTable = [
  [moFit0945,moFit0940,moFit0941,moFit0942,moFit0906,moFit0908,moFit0903],
  [noFit0945,noFit0940,noFit0941,noFit0942,noFit0906,noFit0908,noFit0903],
  [seFit0945,seFit0940,seFit0941,seFit0942,seFit0906,seFit0908,seFit0903],
  [uFit0945,uFit0940,uFit0941,uFit0942,uFit0906,uFit0908,uFit0903]];
const tickTable = [moTicks,noTicks,seTicks,uTicks];
const labelTable = [moLabels,noLabels,seLabels,uLabels];

// ---------- layout ----------
const X0 = 93, PW = 218.3, CSTEP = 228.3;
const Y0 = 47, PH = 232.75, RSTEP = 242.75;
const STRIP_TOP = 8, STRIP_H = 39, RSTRIP_W = 36;
const svg = d3.select("#chart");
const defs = svg.append("defs");
const tickFont = 15.8, stripFont = 22.5, titleFont = 20.5;

function minorLog(ticks, dom){
  const lb = ticks.map(Math.log10);
  const bd = lb[1]-lb[0];
  const ext = [lb[0]-bd, ...lb, lb[lb.length-1]+bd];
  const out = [];
  for (let i=0;i<ext.length-1;i++) out.push(Math.pow(10,(ext[i]+ext[i+1])/2));
  return out.filter(v => v>dom[0] && v<dom[1]);
}
const minorYears = d3.range(1997, 2025).filter(y => !xTicks.includes(y));

analytes.forEach((an, r) => {
  const py = Y0 + r*RSTEP;
  const ys = d3.scaleLog().domain(yLimits[r]).range([PH, 0]);
  const minorY = minorLog(tickTable[r], yLimits[r]);
  stations.forEach((st, c) => {
    const px = X0 + c*CSTEP;
    const xs = d3.scaleLinear().domain(xDomain).range([0, PW]);
    const g = svg.append("g").attr("transform", `translate(${px},${py})`);
    const cid = `clip${r}_${c}`;
    defs.append("clipPath").attr("id", cid).append("rect").attr("width", PW).attr("height", PH);
    g.append("rect").attr("width", PW).attr("height", PH).attr("fill", "#EBEBEB");
    const grid = g.append("g");
    grid.selectAll(".ymin").data(minorY).join("line")
      .attr("x1",0).attr("x2",PW).attr("y1",d=>ys(d)).attr("y2",d=>ys(d))
      .attr("stroke","#fff").attr("stroke-width",0.8);
    grid.selectAll(".xmin").data(minorYears).join("line")
      .attr("y1",0).attr("y2",PH).attr("x1",d=>xs(d)).attr("x2",d=>xs(d))
      .attr("stroke","#fff").attr("stroke-width",0.8);
    grid.selectAll(".ymaj").data(tickTable[r]).join("line")
      .attr("x1",0).attr("x2",PW).attr("y1",d=>ys(d)).attr("y2",d=>ys(d))
      .attr("stroke","#fff").attr("stroke-width",1.6);
    grid.selectAll(".xmaj").data(xTicks).join("line")
      .attr("y1",0).attr("y2",PH).attr("x1",d=>xs(d)).attr("x2",d=>xs(d))
      .attr("stroke","#fff").attr("stroke-width",1.6);

    const body = g.append("g").attr("clip-path", `url(#${cid})`);
    const pts = pointTable[r][c];
    body.selectAll("circle").data(pts).join("circle")
      .attr("cx", d=>xs(d[0])).attr("cy", d=>ys(d[1]))
      .attr("r", d=>d[2]?3.0:3.3)
      .attr("fill", d=>d[2]?"none":"#000")
      .attr("stroke", d=>d[2]?"#000":"none")
      .attr("stroke-width", 1.1);
    const fit = fitTable[r][c];
    body.append("path").datum(fit)
      .attr("d", d3.area().x(d=>xs(d[0])).y0(d=>ys(d[2])).y1(d=>ys(d[3])).curve(d3.curveMonotoneX))
      .attr("fill", "#0000ff").attr("fill-opacity", 0.1);
    body.append("path").datum(fit)
      .attr("d", d3.line().x(d=>xs(d[0])).y(d=>ys(d[1])).curve(d3.curveMonotoneX))
      .attr("fill","none").attr("stroke","#3366FF").attr("stroke-width",1.8);
    body.append("line").attr("x1",0).attr("x2",PW)
      .attr("y1",ys(redLimits[r])).attr("y2",ys(redLimits[r]))
      .attr("stroke","#ff0000").attr("stroke-width",1.5);
    body.append("line").attr("x1",0).attr("x2",PW)
      .attr("y1",ys(dashLimits[r])).attr("y2",ys(dashLimits[r]))
      .attr("stroke","#000").attr("stroke-width",2).attr("stroke-dasharray","7,5");
    body.append("line").attr("y1",0).attr("y2",PH)
      .attr("x1",xs(greenYear)).attr("x2",xs(greenYear))
      .attr("stroke","forestgreen").attr("stroke-opacity",0.4).attr("stroke-width",2.2);
    body.append("line").attr("y1",0).attr("y2",PH)
      .attr("x1",xs(orangeYear)).attr("x2",xs(orangeYear))
      .attr("stroke","darkorange").attr("stroke-opacity",0.4).attr("stroke-width",2.2);

    if (c === 0) {
      const ax = g.append("g").call(d3.axisLeft(ys).tickValues(tickTable[r])
        .tickFormat((d,i)=>labelTable[r][i]).tickSize(5).tickPadding(4));
      ax.select(".domain").remove();
      ax.selectAll(".tick line").attr("stroke","#333").attr("stroke-width",1.1);
      ax.selectAll(".tick text").attr("fill","#4D4D4D").style("font-size",tickFont+"px")
        .style("font-family",'"Liberation Sans",Arial,sans-serif');
    }
    if (r === analytes.length-1) {
      const ax = g.append("g").attr("transform",`translate(0,${PH})`)
        .call(d3.axisBottom(xs).tickValues(xTicks).tickFormat(d3.format("d")).tickSize(5));
      ax.select(".domain").remove();
      ax.selectAll(".tick line").attr("stroke","#333").attr("stroke-width",1.1);
      ax.selectAll(".tick text").attr("fill","#4D4D4D").style("font-size",tickFont+"px")
        .style("font-family",'"Liberation Sans",Arial,sans-serif')
        .attr("transform","rotate(-90)").attr("text-anchor","end")
        .attr("x",-10).attr("y",0).attr("dy","0.35em");
    }
    if (r === 0) {
      svg.append("rect").attr("x",px).attr("y",STRIP_TOP).attr("width",PW).attr("height",STRIP_H).attr("fill","#D9D9D9");
      svg.append("text").attr("x",px+PW/2).attr("y",STRIP_TOP+STRIP_H/2).attr("dy","0.36em")
        .attr("text-anchor","middle").attr("fill","#1A1A1A").style("font-size",stripFont+"px").text(st);
    }
  });
  const sx = X0 + 6*CSTEP + PW;
  svg.append("rect").attr("x",sx).attr("y",py).attr("width",RSTRIP_W).attr("height",PH).attr("fill","#D9D9D9");
  svg.append("text").attr("transform",`translate(${sx+RSTRIP_W/2},${py+PH/2}) rotate(90)`)
    .attr("dy","0.36em").attr("text-anchor","middle").attr("fill","#1A1A1A")
    .style("font-size",stripFont+"px").text(an);
});

svg.append("text").attr("transform",`translate(20,${Y0+ (4*PH+3*(RSTEP-PH))/2}) rotate(-90)`)
  .attr("dy","0.36em").attr("text-anchor","middle").attr("fill","#000").style("font-size",titleFont+"px").text("Result (mg/L)");
svg.append("text").attr("x", X0 + (6*CSTEP+PW)/2).attr("y",1082).attr("dy","0.36em")
  .attr("text-anchor","middle").attr("fill","#000").style("font-size",titleFont+"px").text("Date");
</script></body></html>
